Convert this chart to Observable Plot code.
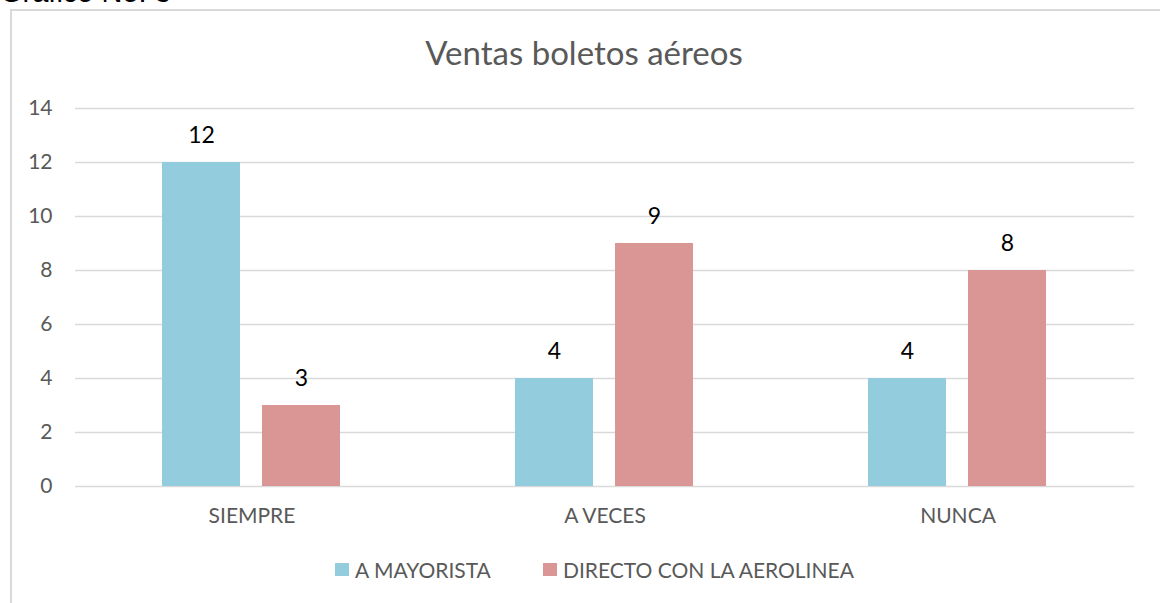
<!DOCTYPE html>
<html>
<head>
<meta charset="utf-8">
<script src="https://cdn.jsdelivr.net/npm/d3@7"></script>
<script src="https://cdn.jsdelivr.net/npm/@observablehq/plot@0.6"></script>
<style>
  html, body { margin: 0; padding: 0; background: #fff; }
  body { width: 1160px; height: 603px; overflow: hidden; position: relative; font-family: Lato, "Open Sans", sans-serif; }
  #pre { position: absolute; left: 0; top: -24px; font-family: "Liberation Sans", Arial, sans-serif; font-size: 29px; color: #000; white-space: nowrap; }
  #frame { position: absolute; left: 10px; top: 9px; width: 1200px; height: 700px; border-left: 2px solid #D9D9D9; border-top: 2px solid #D9D9D9; }
  #title { position: absolute; left: 0; width: 1168px; top: 32px; text-align: center; font-size: 33px; line-height: 40px; color: #595959; }
  #chart { position: absolute; left: 0; top: 80px; }
  #legend { position: absolute; top: 557px; left: 0; width: 1160px; font-size: 21px; line-height: 25px; color: #595959; }
  .item { position: absolute; top: 0; white-space: nowrap; height: 25px; }
  .sw { position: absolute; left: 0; top: 6px; width: 14px; height: 13px; }
  .lab { position: absolute; left: 20px; top: 0; }
</style>
</head>
<body>
<div id="pre">Gráfico No. 3</div>
<div id="frame"></div>
<div id="title">Ventas boletos aéreos</div>
<div id="chart"></div>
<div id="legend"></div>
<script>
const categories = ["SIEMPRE", "A VECES", "NUNCA"];
const series = ["A MAYORISTA", "DIRECTO CON LA AEROLINEA"];
const mayorista = [12, 4, 4];
const directo = [3, 9, 8];
const colors = ["#93CDDD", "#D99694"];
const yTicks = [0, 2, 4, 6, 8, 10, 12, 14];

const rows = [];
categories.forEach((c, i) => {
  rows.push({cat: c, series: series[0], value: mayorista[i]});
  rows.push({cat: c, series: series[1], value: directo[i]});
});

const chart = Plot.plot({
  width: 1160,
  height: 466,
  marginLeft: 74,
  marginRight: 26,
  marginTop: 28,
  marginBottom: 60,
  style: {fontFamily: "Lato, 'Open Sans', sans-serif", fontSize: "21px", color: "#595959", background: "transparent"},
  facet: {data: rows, x: "cat"},
  fx: {domain: categories, padding: 0, label: null, tickSize: 0, tickPadding: 22, axis: "bottom"},
  x: {domain: series, axis: null, paddingInner: 0.218, paddingOuter: 0.858},
  y: {domain: [0, 14], ticks: yTicks, tickFormat: d => String(d), tickSize: 0, tickPadding: 23, label: null, grid: false},
  color: {domain: series, range: colors},
  marks: [
    Plot.ruleY(yTicks, {stroke: "#D9D9D9", strokeWidth: 1.5}),
    Plot.barY(rows, {x: "series", y: "value", fill: "series"}),
    Plot.text(rows, {x: "series", y: "value", text: d => String(d.value), dy: -27, fill: "#000", fontSize: 23})
  ]
});
document.getElementById("chart").appendChild(chart);

const legend = document.getElementById("legend");
const lefts = [335, 543];
series.forEach((s, i) => {
  const it = document.createElement("div");
  it.className = "item";
  it.style.left = lefts[i] + "px";
  const sw = document.createElement("span");
  sw.className = "sw";
  sw.style.background = colors[i];
  const lab = document.createElement("span");
  lab.className = "lab";
  lab.textContent = s;
  it.appendChild(sw);
  it.appendChild(lab);
  legend.appendChild(it);
});
</script>
</body>
</html>
